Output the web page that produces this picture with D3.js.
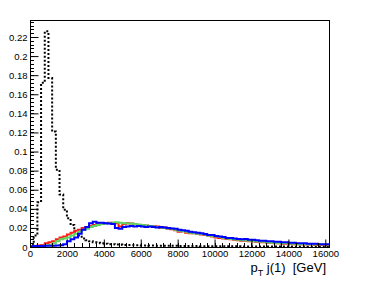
<!DOCTYPE html>
<html>
<head>
<meta charset="utf-8">
<script src="https://cdn.jsdelivr.net/npm/d3@7"></script>
<style>
  body { margin: 0; background: #fff; }
  text { font-family: "Liberation Sans", Arial, sans-serif; }
</style>
</head>
<body>
<svg id="chart" width="374" height="284"></svg>
<script>
// binning: 200 GeV wide bins from 0
var binWidth = 200;
var xTicks = [0, 2000, 4000, 6000, 8000, 10000, 12000, 14000, 16000];
var yTicks = [0, 0.02, 0.04, 0.06, 0.08, 0.1, 0.12, 0.14, 0.16, 0.18, 0.2, 0.22];

// black dotted histogram
var blackVals = [0.002, 0.012, 0.047, 0.172, 0.226, 0.177, 0.121, 0.081, 0.055, 0.039,
  0.030, 0.023, 0.016, 0.012, 0.009, 0.007, 0.006, 0.005, 0.0045, 0.004,
  0.0035, 0.003, 0.003, 0.0025, 0.0025, 0.002, 0.002, 0.002, 0.0018, 0.0018,
  0.0016, 0.0016, 0.0015, 0.0015, 0.0014, 0.0014, 0.0013, 0.0013, 0.0012, 0.0012,
  0.0011, 0.0011, 0.001, 0.001, 0.001, 0.001, 0.0009, 0.0009, 0.0009, 0.0008,
  0.0008, 0.0008, 0.0008, 0.0007, 0.0007, 0.0007, 0.0007, 0.0006, 0.0006, 0.0006,
  0.0006, 0.0006, 0.0005, 0.0005, 0.0005, 0.0005, 0.0005, 0.0005, 0.0004, 0.0004,
  0.0004, 0.0004, 0.0004, 0.0004, 0.0004, 0.0003, 0.0003, 0.0003, 0.0003, 0.0003, 0.0003];

var redVals = [0.0005, 0.001, 0.0015, 0.002, 0.004, 0.005, 0.006, 0.008, 0.010, 0.011,
  0.013, 0.015, 0.017, 0.018, 0.020, 0.021, 0.022, 0.023, 0.024, 0.0245,
  0.025, 0.0255, 0.0255, 0.025, 0.0215, 0.024, 0.025, 0.0245, 0.024, 0.023,
  0.023, 0.0225, 0.022, 0.022, 0.0215, 0.020, 0.0205, 0.019, 0.0185, 0.0175,
  0.016, 0.0165, 0.015, 0.0145, 0.0145, 0.0135, 0.013, 0.0125, 0.012, 0.011,
  0.010, 0.0095, 0.009, 0.0085, 0.008, 0.0075, 0.007, 0.0065, 0.0065, 0.006,
  0.006, 0.0055, 0.005, 0.005, 0.0045, 0.0045, 0.004, 0.004, 0.0035, 0.0035,
  0.0035, 0.003, 0.003, 0.003, 0.0025, 0.0025, 0.0025, 0.002, 0.002, 0.002, 0.002];

var greenVals = [0.0003, 0.0005, 0.001, 0.0012, 0.0015, 0.002, 0.004, 0.006, 0.008, 0.009,
  0.010, 0.012, 0.014, 0.016, 0.018, 0.019, 0.021, 0.022, 0.023, 0.024,
  0.0245, 0.025, 0.0255, 0.026, 0.0255, 0.025, 0.0245, 0.0245, 0.024, 0.0235,
  0.023, 0.0225, 0.022, 0.0215, 0.021, 0.0205, 0.020, 0.0195, 0.019, 0.018,
  0.017, 0.0165, 0.016, 0.015, 0.0145, 0.014, 0.0135, 0.013, 0.012, 0.0115,
  0.011, 0.0105, 0.0095, 0.009, 0.0085, 0.008, 0.0075, 0.007, 0.007, 0.0065,
  0.006, 0.006, 0.0055, 0.0055, 0.005, 0.0045, 0.0045, 0.004, 0.004, 0.004,
  0.0035, 0.0035, 0.003, 0.003, 0.003, 0.003, 0.0025, 0.0025, 0.0025, 0.0025, 0.0025];

var blueVals = [0.0008, 0.001, 0.001, 0.0011, 0.0012, 0.0013, 0.0014, 0.0016, 0.0018, 0.003,
  0.006, 0.008, 0.010, 0.014, 0.018, 0.021, 0.025, 0.0265, 0.0255, 0.0255,
  0.025, 0.0245, 0.024, 0.020, 0.019, 0.021, 0.0215, 0.022, 0.0215, 0.022,
  0.0215, 0.021, 0.0215, 0.021, 0.0205, 0.021, 0.0205, 0.020, 0.0195, 0.019,
  0.018, 0.0175, 0.017, 0.016, 0.0155, 0.015, 0.0145, 0.0135, 0.0125, 0.0125,
  0.0115, 0.011, 0.0105, 0.0095, 0.0095, 0.009, 0.0085, 0.008, 0.0085, 0.0075,
  0.0075, 0.007, 0.0065, 0.0065, 0.006, 0.006, 0.0055, 0.0055, 0.005, 0.005,
  0.0045, 0.0045, 0.004, 0.004, 0.004, 0.0035, 0.0035, 0.0035, 0.003, 0.003, 0.003];

var series = [
  { vals: blackVals, color: "#000", width: 2, dash: "2,2" },
  { vals: redVals, color: "#ff1a1a", width: 2, dash: null },
  { vals: greenVals, color: "#5fd35f", width: 2, dash: null },
  { vals: blueVals, color: "#0000ff", width: 2, dash: null }
];

var svg = d3.select("#chart");
// frame edges (don't use "top", it's window.top)
var frameL = 30, frameR = 329, frameT = 20, frameB = 247;

var x = d3.scaleLinear().domain([0, 16200]).range([frameL, frameR]);
var y = d3.scaleLinear().domain([0, 0.2378]).range([frameB, frameT]);

svg.append("clipPath").attr("id", "clip")
  .append("rect").attr("x", frameL).attr("y", frameT).attr("width", frameR - frameL).attr("height", frameB - frameT);

// step outline like a ROOT hist
function stepPoints(vals) {
  var pts = [[0, 0]];
  vals.forEach(function(v, i) {
    pts.push([i * binWidth, v]);
    pts.push([(i + 1) * binWidth, v]);
  });
  return pts;
}
var line = d3.line().x(function(d) { return x(d[0]); }).y(function(d) { return y(d[1]); });

var g = svg.append("g").attr("clip-path", "url(#clip)");
series.forEach(function(s) {
  g.append("path")
    .attr("d", line(stepPoints(s.vals)))
    .attr("fill", "none")
    .attr("stroke", s.color)
    .attr("stroke-width", s.width)
    .attr("stroke-dasharray", s.dash);
});

// frame
svg.append("rect").attr("x", frameL + 0.5).attr("y", frameT + 0.5).attr("width", frameR - frameL).attr("height", frameB - frameT)
  .attr("fill", "none").attr("stroke", "#000").attr("stroke-width", 1);

// y axis, ticks drawn inward
var yAxis = d3.axisLeft(y).tickValues(yTicks).tickSize(-8).tickPadding(3)
  .tickFormat(function(d) { return d === 0 ? "0" : String(+d.toFixed(2)); });
var ya = svg.append("g").attr("transform", "translate(" + (frameL + 0.5) + ",0)").call(yAxis);
ya.select(".domain").remove();
ya.selectAll("text").attr("font-size", "9.5px").attr("x", -3).attr("fill", "#000");
var yMinor = d3.range(0, 0.2378, 0.004);
svg.append("g").selectAll("line").data(yMinor).join("line")
  .attr("x1", frameL).attr("x2", frameL + 4)
  .attr("y1", function(d) { return Math.round(y(d)) + 0.5; })
  .attr("y2", function(d) { return Math.round(y(d)) + 0.5; })
  .attr("stroke", "#000").attr("stroke-width", 1);

// x axis
var xAxis = d3.axisBottom(x).tickValues(xTicks).tickSize(-8).tickPadding(3).tickFormat(d3.format("d"));
var xa = svg.append("g").attr("transform", "translate(0," + (frameB + 0.5) + ")").call(xAxis);
xa.select(".domain").remove();
xa.selectAll("text").attr("font-size", "9.5px").attr("y", 3).attr("fill", "#000");
var xMinor = d3.range(0, 16200, 400);
svg.append("g").selectAll("line").data(xMinor).join("line")
  .attr("y1", frameB).attr("y2", frameB - 4)
  .attr("x1", function(d) { return Math.round(x(d)) + 0.5; })
  .attr("x2", function(d) { return Math.round(x(d)) + 0.5; })
  .attr("stroke", "#000").attr("stroke-width", 1);

// axis title
var title = svg.append("text").attr("x", frameR - 3).attr("y", 272)
  .attr("text-anchor", "end").attr("font-size", "13px").attr("fill", "#000");
title.append("tspan").text("p");
title.append("tspan").attr("font-size", "9px").attr("dy", 4).text("T");
title.append("tspan").attr("dy", -4).attr("xml:space", "preserve").text(" j(1)  [GeV]");
</script>
</body>
</html>
